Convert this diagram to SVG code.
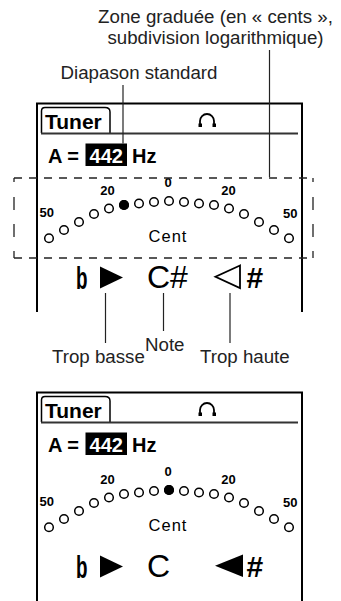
<svg xmlns="http://www.w3.org/2000/svg" xmlns:xlink="http://www.w3.org/1999/xlink" width="341" height="601" viewBox="0 0 341 601">
<style>
.lbl{font-family:"Liberation Sans",Arial,sans-serif;font-size:18.7px;fill:#222}
.scr{font-family:"Liberation Sans",Arial,sans-serif;fill:#000}
.b{font-weight:bold}
.lead{stroke:#222;stroke-width:1.2;fill:none}
.dot{fill:#fff;stroke:#000;stroke-width:1.5}
.frame{fill:none;stroke:#000;stroke-width:2}
.dh{fill:none;stroke:#222;stroke-width:1.3;stroke-dasharray:8 7}
.dv{fill:none;stroke:#222;stroke-width:1.3}
</style>
<defs>
<g id="screen">
  <path class="frame" d="M37,312 V103.5 H302 V312"/>
  <path d="M41.5,133 V111 Q41.5,107.5 45,107.5 H105 Q110,107.5 110,112 V133" fill="none" stroke="#000" stroke-width="1.5"/>
  <line x1="41" y1="133.5" x2="298" y2="133.5" stroke="#333" stroke-width="2"/>
  <text class="scr b" x="45" y="128.5" font-size="21">Tuner</text>
  <path d="M200,125 V121 A7,7 0 0 1 214,121 V125" fill="none" stroke="#000" stroke-width="1.8"/>
  <rect x="198.5" y="123.5" width="3.5" height="3.5"/>
  <rect x="212.5" y="123.5" width="3.5" height="3.5"/>
  <text class="scr b" x="48" y="163" font-size="20">A =</text>
  <rect x="85.5" y="143.5" width="41.5" height="22.5" fill="#000"/>
  <text class="scr b" x="106.3" y="163" font-size="20" text-anchor="middle" style="fill:#fff">442</text>
  <text class="scr b" x="132" y="163" font-size="20">Hz</text>
  <g class="scr b" font-size="13">
    <text x="39.5" y="217">50</text>
    <text x="297.5" y="218" text-anchor="end">50</text>
    <text x="107.5" y="195" text-anchor="middle">20</text>
    <text x="228.5" y="194.5" text-anchor="middle">20</text>
    <text x="168" y="187" text-anchor="middle">0</text>
  </g>
  <text class="scr" x="168" y="241.5" font-size="16.5" text-anchor="middle" letter-spacing="1">Cent</text>
  <g class="dot">
    <circle cx="49" cy="238.3" r="4.3"/><circle cx="64" cy="230" r="4.3"/><circle cx="79" cy="222" r="4.3"/><circle cx="94" cy="214" r="4.3"/>
    <circle cx="109" cy="208.5" r="4.3"/><circle cx="124" cy="205" r="4.3"/><circle cx="139" cy="203.5" r="4.3"/><circle cx="154" cy="202" r="4.3"/>
    <circle cx="169" cy="201" r="4.3"/>
    <circle cx="184" cy="202" r="4.3"/><circle cx="199" cy="203.5" r="4.3"/><circle cx="214" cy="205" r="4.3"/><circle cx="229" cy="208.5" r="4.3"/>
    <circle cx="244" cy="214" r="4.3"/><circle cx="259" cy="222" r="4.3"/><circle cx="274" cy="230" r="4.3"/><circle cx="289" cy="238.3" r="4.3"/>
  </g>
  <text class="scr b" x="76" y="289" font-size="32" textLength="11.5" lengthAdjust="spacingAndGlyphs">b</text>
  <polygon points="100,266.5 123,277.5 100,288.5"/>
</g>
</defs>

<g id="labels">
  <text class="lbl" x="215.5" y="22.5" text-anchor="middle">Zone graduée (en « cents »,</text>
  <text class="lbl" x="215.5" y="43.5" text-anchor="middle">subdivision logarithmique)</text>
  <text class="lbl" x="139" y="78.5" text-anchor="middle">Diapason standard</text>
  <text class="lbl" x="52" y="362.5">Trop basse</text>
  <text class="lbl" x="145" y="350.5">Note</text>
  <text class="lbl" x="200" y="362.5">Trop haute</text>
</g>

<g id="screen-top">
  <use xlink:href="#screen"/>
  <circle cx="124" cy="205" r="5" fill="#000"/>
  <text class="scr" x="147" y="288" font-size="32">C#</text>
  <polygon points="240,265.5 215.5,276.8 240,288" fill="none" stroke="#000" stroke-width="1.8"/>
  <text class="scr b" x="246.5" y="288" font-size="30">#</text>
</g>

<g id="screen-bottom" transform="translate(0,289)">
  <use xlink:href="#screen"/>
  <circle cx="169" cy="201" r="5" fill="#000"/>
  <text class="scr" x="147" y="288" font-size="32">C</text>
  <polygon points="243,265.5 215,276.8 243,288"/>
  <text class="scr b" x="246.5" y="288" font-size="30">#</text>
</g>

<g id="connectors">
  <path class="dh" d="M14,178 H313 M14,258 H313"/>
  <path class="dv" d="M14,178 V182 M14,197 V210 M14,224 V237 M14,251 V258 M313,178 V182 M313,197 V210 M313,224 V237 M313,251 V258"/>
  <line class="lead" x1="123" y1="85" x2="123" y2="143.5"/>
  <line class="lead" x1="269.5" y1="50" x2="269.5" y2="177"/>
  <line class="lead" x1="105.5" y1="293" x2="105.5" y2="343"/>
  <line class="lead" x1="163.5" y1="293" x2="163.5" y2="331"/>
  <line class="lead" x1="230" y1="293" x2="230" y2="343"/>
</g>
</svg>
